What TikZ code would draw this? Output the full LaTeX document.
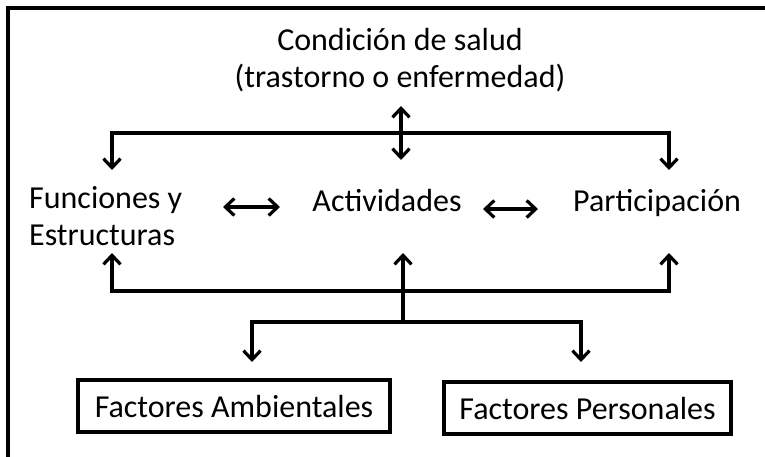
\documentclass[tikz,border=0pt]{standalone}
\usepackage{fontspec}
\setmainfont{Carlito}
\usetikzlibrary{arrows.meta}
\begin{document}
\begin{tikzpicture}[x=1pt,y=-1pt,
  lbl/.style={inner sep=0pt,font=\fontsize{32}{37}\selectfont,text=black},
  tip/.tip={Straight Barb[length=9pt,width=17pt,line width=3.2pt]},
  conn/.style={line width=3.3pt,line join=miter,-tip},
  dconn/.style={line width=3.3pt,tip-tip},
  fbox/.style={draw,line width=3.3pt,minimum width=312pt,minimum height=52pt,inner sep=0pt,
    font=\fontsize{32}{37}\selectfont}]
\useasboundingbox (0,0) rectangle (765,456);
\draw[line width=3.3pt] (8,470) -- (8,8) -- (780,8);
% texts
\node[lbl,align=center,anchor=base] (cond) at (400,87) {Condición de salud\\(trastorno o enfermedad)};
\node[lbl,align=left,anchor=base west] (fun) at (29,245) {Funciones y\\Estructuras};
\node[lbl,anchor=base] (act) at (387,211) {Actividades};
\node[lbl,anchor=base west] (par) at (573,211) {Participación};
\node[fbox] (amb) at (234,406) {Factores Ambientales};
\node[fbox,minimum width=287pt] (per) at (587.5,408) {Factores Personales};
% coordinates
\coordinate (ctop) at (401,106);
\coordinate (cbot) at (401,160);
\coordinate (tl) at (112,133);
\coordinate (tr) at (669,133);
\coordinate (ftip) at (112,170);
\coordinate (ptip) at (669,170);
\coordinate (bl) at (112,291);
\coordinate (br) at (669,291);
\coordinate (futip) at (112,253);
\coordinate (putip) at (669,253);
\coordinate (autip) at (403,253);
\coordinate (mid) at (403,322);
\coordinate (ml) at (252,322);
\coordinate (mr) at (581,322);
\coordinate (ambtip) at (252,362);
\coordinate (pertip) at (581,362);
\coordinate (fa) at (223,207);
\coordinate (fb) at (280,207);
\coordinate (pa) at (483,209);
\coordinate (pb) at (538,209);
% top connectors
\draw[dconn] (ctop) -- (cbot);
\draw[conn] (tr) -- (tl) -- (ftip);
\draw[conn] (tl) -- (tr) -- (ptip);
% horizontal double arrows
\draw[dconn] (fa) -- (fb);
\draw[dconn] (pa) -- (pb);
% bottom connectors
\draw[conn] (br) -- (bl) -- (futip);
\draw[conn] (bl) -- (br) -- (putip);
\draw[conn] (mid) -- (autip);
\draw[conn] (mr) -- (ml) -- (ambtip);
\draw[conn] (ml) -- (mr) -- (pertip);
\end{tikzpicture}
\end{document}
